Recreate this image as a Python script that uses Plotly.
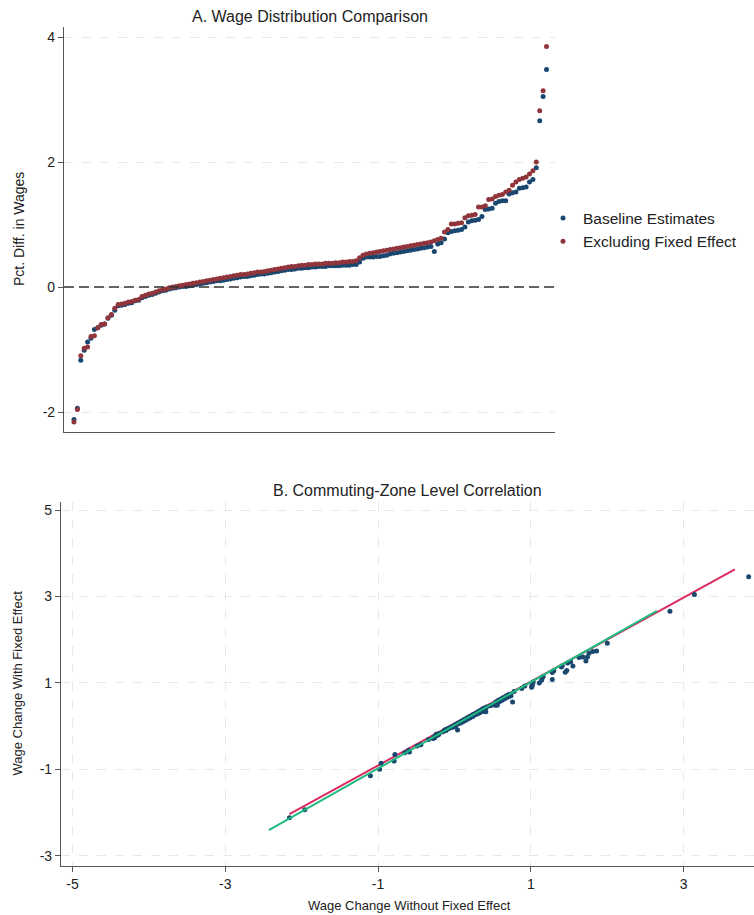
#%%
# Wage comparison: baseline estimates vs. estimates excluding the fixed effect
#%%
import plotly.graph_objects as go


#%%
# Data

# A. 排序後的分布 - 不含固定效果 (Excluding Fixed Effect)
excl_fe = [
    -2.16, -1.96, -1.10, -0.98, -0.96, -0.79, -0.78, -0.65, -0.60, -0.59,
    -0.49, -0.44, -0.34, -0.28, -0.27, -0.26, -0.24, -0.23, -0.21, -0.20,
    -0.15, -0.13, -0.11, -0.10, -0.08, -0.06, -0.04, -0.03, -0.01, 0.00,
    0.01, 0.02, 0.03, 0.04, 0.05, 0.06, 0.07, 0.08, 0.09, 0.10,
    0.11, 0.12, 0.13, 0.14, 0.15, 0.16, 0.17, 0.18, 0.19, 0.20,
    0.20, 0.21, 0.22, 0.23, 0.24, 0.24, 0.25, 0.26, 0.27, 0.28,
    0.29, 0.30, 0.31, 0.32, 0.33, 0.33, 0.34, 0.35, 0.35, 0.36,
    0.36, 0.37, 0.37, 0.37, 0.38, 0.38, 0.38, 0.39, 0.39, 0.40,
    0.40, 0.41, 0.41, 0.42, 0.47, 0.51, 0.53, 0.54, 0.55, 0.56,
    0.57, 0.58, 0.59, 0.60, 0.61, 0.62, 0.63, 0.64, 0.65, 0.66,
    0.67, 0.68, 0.69, 0.70, 0.71, 0.72, 0.74, 0.76, 0.78, 0.88,
    0.92, 1.01, 1.01, 1.02, 1.03, 1.11, 1.14, 1.15, 1.16, 1.28,
    1.28, 1.30, 1.40, 1.41, 1.45, 1.47, 1.48, 1.52, 1.55, 1.63,
    1.68, 1.72, 1.74, 1.76, 1.81, 1.86, 2.00, 2.82, 3.14, 3.85,
]

# A. 排序後的分布 - 基準估計 (Baseline Estimates)
baseline = [
    -2.12, -1.94, -1.17, -1.01, -0.88, -0.82, -0.68, -0.65, -0.61, -0.59,
    -0.50, -0.45, -0.37, -0.30, -0.29, -0.28, -0.26, -0.25, -0.22, -0.21,
    -0.17, -0.15, -0.13, -0.12, -0.10, -0.08, -0.06, -0.05, -0.03, -0.02,
    -0.01, 0.00, 0.01, 0.01, 0.02, 0.03, 0.04, 0.05, 0.06, 0.07,
    0.08, 0.09, 0.10, 0.10, 0.11, 0.12, 0.13, 0.14, 0.15, 0.16,
    0.17, 0.17, 0.18, 0.19, 0.20, 0.21, 0.21, 0.22, 0.23, 0.24,
    0.25, 0.26, 0.27, 0.28, 0.28, 0.29, 0.30, 0.30, 0.31, 0.31,
    0.32, 0.32, 0.33, 0.33, 0.33, 0.34, 0.34, 0.34, 0.34, 0.35,
    0.35, 0.35, 0.36, 0.36, 0.40, 0.46, 0.48, 0.48, 0.48, 0.49,
    0.49, 0.50, 0.51, 0.53, 0.54, 0.55, 0.56, 0.57, 0.58, 0.59,
    0.60, 0.61, 0.62, 0.63, 0.64, 0.65, 0.57, 0.69, 0.71, 0.77,
    0.87, 0.89, 0.90, 0.91, 0.92, 0.96, 1.04, 1.06, 1.07, 1.08,
    1.13, 1.24, 1.25, 1.26, 1.34, 1.37, 1.38, 1.38, 1.49, 1.51,
    1.52, 1.58, 1.59, 1.60, 1.68, 1.72, 1.91, 2.66, 3.05, 3.48,
]

rank = list(range(1, len(baseline) + 1))

# B. 通勤區 - 含固定效果 (y)，x 軸用 excl_fe 同順序
cz_with_fe = [
    -2.12, -1.94, -1.15, -1.00, -0.86, -0.81, -0.66, -0.62, -0.56, -0.60,
    -0.46, -0.43, -0.31, -0.29, -0.25, -0.27, -0.19, -0.22, -0.20, -0.17,
    -0.13, -0.09, -0.10, -0.07, -0.06, -0.04, -0.03, -0.01, -0.02, 0.02,
    0.03, 0.01, 0.05, -0.09, 0.06, 0.07, 0.09, 0.07, 0.11, 0.12,
    0.10, 0.14, 0.15, 0.13, 0.16, 0.18, 0.16, 0.20, 0.21, 0.19,
    0.22, 0.23, 0.21, 0.25, 0.26, 0.22, 0.27, 0.28, 0.26, 0.30,
    0.31, 0.28, 0.33, 0.34, 0.31, 0.35, 0.36, 0.33, 0.37, 0.38,
    0.34, 0.39, 0.36, 0.40, 0.35, 0.40, 0.37, 0.41, 0.37, 0.42,
    0.38, 0.43, 0.33, 0.44, 0.47, 0.50, 0.48, 0.56, 0.52, 0.48,
    0.59, 0.56, 0.61, 0.58, 0.63, 0.60, 0.65, 0.62, 0.67, 0.64,
    0.66, 0.70, 0.67, 0.72, 0.68, 0.74, 0.70, 0.56, 0.80, 0.87,
    0.93, 0.90, 0.92, 0.95, 1.02, 1.00, 1.06, 1.12, 1.15, 1.08,
    1.24, 1.28, 1.37, 1.40, 1.25, 1.29, 1.46, 1.49, 1.39, 1.59,
    1.60, 1.51, 1.60, 1.69, 1.73, 1.74, 1.92, 2.66, 3.05, 3.46,
]

# B. 直線端點
fit_x = [-2.16, 3.67]
fit_y = [-2.04, 3.63]
diag_x = [-2.43, 2.65]
diag_y = [-2.41, 2.67]

# tick labels (plain hyphen minus, as in the original)
ticks_a_y = [-2, 0, 2, 4]
labels_a_y = ['-2', '0', '2', '4']
ticks_b_x = [-5, -3, -1, 1, 3]
labels_b_x = ['-5', '-3', '-1', '1', '3']
ticks_b_y = [-3, -1, 1, 3, 5]
labels_b_y = ['-3', '-1', '1', '3', '5']


#%%
navy = '#1a476f'
maroon = '#90353b'
font_name = 'Liberation Sans, Arial, sans-serif'
W, H = 754, 915

fig = go.Figure()

# A. 分布比較
fig.add_trace(go.Scatter(
    x=rank, y=baseline,
    mode='markers',
    marker=dict(color=navy, size=5),
    name='Baseline Estimates',
    xaxis='x', yaxis='y'
))
fig.add_trace(go.Scatter(
    x=rank, y=excl_fe,
    mode='markers',
    marker=dict(color=maroon, size=5),
    name='Excluding Fixed Effect',
    xaxis='x', yaxis='y'
))

# B. 相關
fig.add_trace(go.Scatter(
    x=fit_x, y=fit_y,
    mode='lines',
    line=dict(color='#dc2a5f', width=2),
    showlegend=False,
    xaxis='x2', yaxis='y2'
))
fig.add_trace(go.Scatter(
    x=excl_fe, y=cz_with_fe,
    mode='markers',
    marker=dict(color=navy, size=5),
    showlegend=False,
    xaxis='x2', yaxis='y2'
))
fig.add_trace(go.Scatter(
    x=diag_x, y=diag_y,
    mode='lines',
    line=dict(color='#20b97f', width=2),
    showlegend=False,
    xaxis='x2', yaxis='y2'
))

axis_common = dict(
    showline=True, linecolor='#555555', linewidth=1.2,
    zeroline=False, tickcolor='#555555', ticklen=5,
    tickfont=dict(size=14, color='#222222'),
    gridcolor='#e8e8e8', griddash='dash', gridwidth=1,
)


def label(text, x, y, size, angle=0):
    return dict(text=text, xref='paper', yref='paper', x=x / W, y=1 - y / H,
                xanchor='center', yanchor='middle', showarrow=False,
                textangle=angle, font=dict(size=size, color='#222222'))


fig.update_layout(
    width=W, height=H,
    margin=dict(l=0, r=0, t=0, b=0),
    paper_bgcolor='white', plot_bgcolor='white',
    font=dict(family=font_name, color='#222222'),
    xaxis=dict(axis_common, domain=[64 / W, 555 / W], range=[-1.94, 142.5],
               anchor='y', showticklabels=False, ticks='', showgrid=False),
    yaxis=dict(axis_common, domain=[1 - 432 / H, 1 - 27 / H], range=[-2.32, 4.16],
               anchor='x', tickvals=ticks_a_y, ticktext=labels_a_y,
               ticks='outside', showgrid=True),
    xaxis2=dict(axis_common, domain=[61 / W, 1.0], range=[-5.15, 3.92],
                anchor='y2', tickvals=ticks_b_x, ticktext=labels_b_x,
                ticks='outside', showgrid=True),
    yaxis2=dict(axis_common, domain=[1 - 866 / H, 1 - 502 / H], range=[-3.24, 5.19],
                anchor='x2', tickvals=ticks_b_y, ticktext=labels_b_y,
                ticks='outside', showgrid=True),
    legend=dict(
        x=543 / W, y=1 - 230 / H, xanchor='left', yanchor='middle',
        font=dict(size=15.5, color='#222222'),
        bgcolor='rgba(0,0,0,0)', itemwidth=30,
        traceorder='normal'
    ),
    shapes=[dict(
        type='line', xref='x domain', yref='y',
        x0=0, x1=1, y0=0, y1=0,
        line=dict(color='#333333', width=1.5, dash='10px,5px')
    )],
    annotations=[
        label('A. Wage Distribution Comparison', 309.5, 16, 16),
        label('Pct. Diff. in Wages', 19, 229, 14, -90),
        label('B. Commuting-Zone Level Correlation', 407.5, 490, 16),
        label('Wage Change Without Fixed Effect', 410, 905, 13),
        label('Wage Change With Fixed Effect', 17, 683.5, 13, -90),
    ],
)

# fig.show()
# 頁面 body 預設有 8px 邊距，拿掉讓圖剛好貼齊視窗；工具列也不顯示
fig.write_html("out.html",
               config={'displayModeBar': False},
               post_script="document.body.style.margin='0';"
                           "document.body.style.overflow='hidden';")
